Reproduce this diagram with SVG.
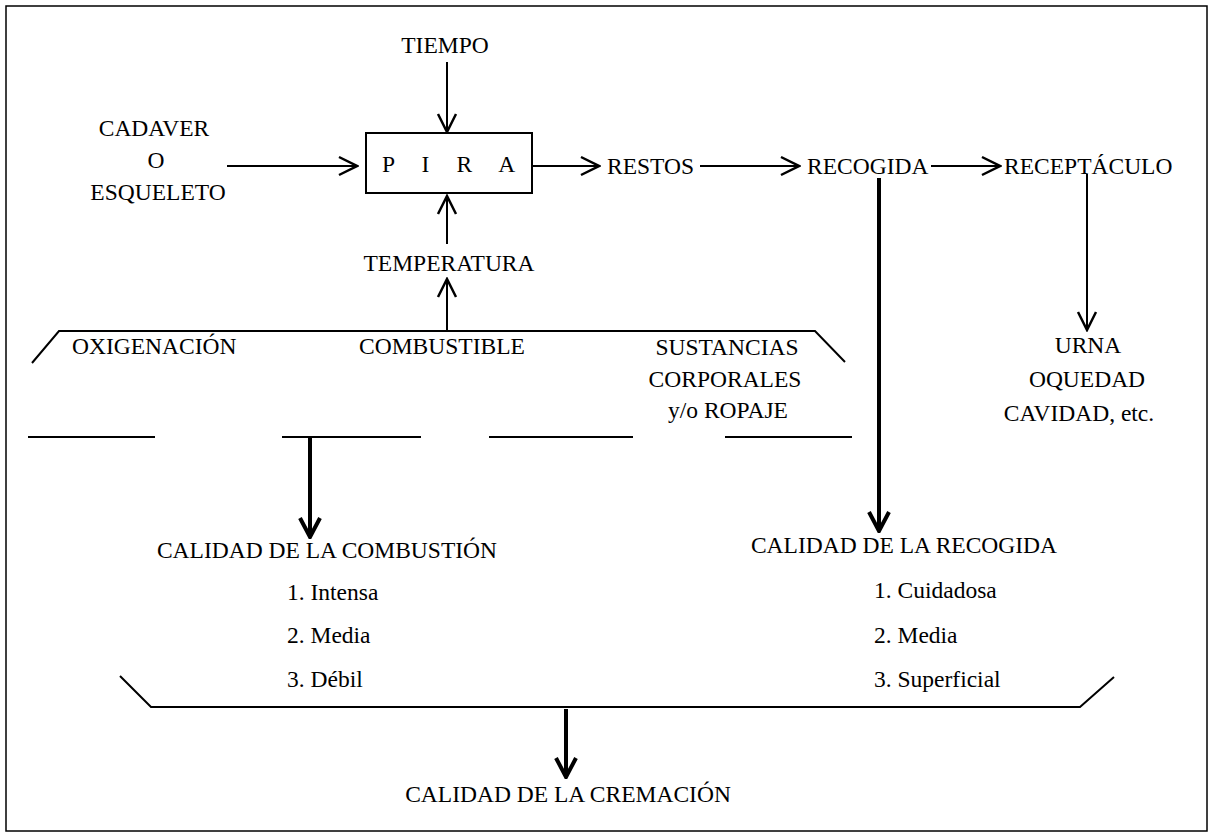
<svg xmlns="http://www.w3.org/2000/svg" width="1214" height="837" viewBox="0 0 1214 837">
<style>
text{font-family:'Liberation Serif','DejaVu Serif',serif;font-size:23.5px;fill:#000}
.c{text-anchor:middle}
.ln{stroke:#000;stroke-width:2;fill:none}
.th{stroke:#000;stroke-width:4;fill:none}
</style>
<defs>
<marker id="a" viewBox="-20 -11 22 22" markerWidth="22" markerHeight="22" refX="0" refY="0" orient="auto" markerUnits="userSpaceOnUse">
<path d="M-18,-9 L0,0 L-18,9" fill="none" stroke="#000" stroke-width="2.5"/>
</marker>
<marker id="b" viewBox="-22 -12 24 24" markerWidth="24" markerHeight="24" refX="0" refY="0" orient="auto" markerUnits="userSpaceOnUse">
<path d="M-19,-10 L0,0 L-19,10" fill="none" stroke="#000" stroke-width="4"/>
</marker>
</defs>
<rect x="6" y="6" width="1201" height="825" fill="#fff" stroke="#000" stroke-width="1.5"/>
<g font-family="Liberation Serif, DejaVu Serif, serif">
<g id="tiempo"><text class="c" x="445" y="53">TIEMPO</text></g>
<g id="cadaver"><text class="c" x="154" y="136">CADAVER</text><text class="c" x="156" y="168">O</text><text class="c" x="158" y="200">ESQUELETO</text></g>
<g id="pira"><rect x="366" y="133" width="166" height="60" class="ln"/><text x="382" y="172" letter-spacing="10.7">P I R A</text></g>
<g id="restos"><text x="607" y="174">RESTOS</text></g>
<g id="recogida"><text x="807" y="174">RECOGIDA</text></g>
<g id="receptaculo"><text x="1004" y="174">RECEPTÁCULO</text></g>
<g id="temperatura"><text class="c" x="449" y="271">TEMPERATURA</text></g>
<g id="factores">
<path class="ln" d="M32,363 L59,331 L815,331 L845,362"/>
<text x="72" y="354">OXIGENACIÓN</text>
<text class="c" x="442" y="354">COMBUSTIBLE</text>
<text class="c" x="727" y="355">SUSTANCIAS</text>
<text class="c" x="725" y="387">CORPORALES</text>
<text class="c" x="728" y="418">y/o ROPAJE</text>
<path class="ln" d="M28,437 H155 M282,437 H421 M489,437 H633 M725,437 H852"/>
</g>
<g id="urna"><text class="c" x="1088" y="353">URNA</text><text class="c" x="1087" y="387">OQUEDAD</text><text class="c" x="1079" y="421">CAVIDAD, etc.</text></g>
<g id="calidad-combustion">
<text class="c" x="327" y="558">CALIDAD DE LA COMBUSTIÓN</text>
<text x="287" y="600">1. Intensa</text>
<text x="287" y="643">2. Media</text>
<text x="287" y="687">3. Débil</text>
</g>
<g id="calidad-recogida">
<text class="c" x="904" y="553">CALIDAD DE LA RECOGIDA</text>
<text x="874" y="598">1. Cuidadosa</text>
<text x="874" y="643">2. Media</text>
<text x="874" y="687">3. Superficial</text>
</g>
<g id="suma"><path class="ln" d="M120,676 L151,707 L1080,707 L1114,677"/></g>
<g id="calidad-cremacion"><text class="c" x="568" y="802">CALIDAD DE LA CREMACIÓN</text></g>
</g>
<g id="connectors">
<line class="ln" x1="447" y1="62" x2="447" y2="132" marker-end="url(#a)"/>
<line class="ln" x1="227" y1="166" x2="357" y2="166" marker-end="url(#a)"/>
<line class="ln" x1="447" y1="244" x2="447" y2="196" marker-end="url(#a)"/>
<line class="ln" x1="447" y1="331" x2="447" y2="279" marker-end="url(#a)"/>
<line class="ln" x1="533" y1="166" x2="599" y2="166" marker-end="url(#a)"/>
<line class="ln" x1="700" y1="166" x2="799" y2="166" marker-end="url(#a)"/>
<line class="ln" x1="931" y1="166" x2="1000" y2="166" marker-end="url(#a)"/>
<line class="ln" x1="1087" y1="174" x2="1087" y2="330" marker-end="url(#a)"/>
<line class="th" x1="879" y1="178" x2="879" y2="531" marker-end="url(#b)"/>
<line class="th" x1="310" y1="438" x2="310" y2="537" marker-end="url(#b)"/>
<line class="th" x1="566" y1="709" x2="566" y2="777" marker-end="url(#b)"/>
</g>
</svg>
